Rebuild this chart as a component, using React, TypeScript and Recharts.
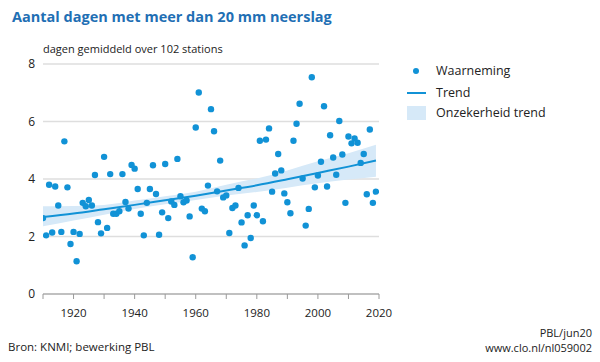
import {
  ComposedChart,
  Area,
  Line,
  Scatter,
  XAxis,
  YAxis,
  CartesianGrid,
} from "recharts";

const BLUE = "#1192d6";
const TITLE_BLUE = "#1f6fb4";
const BAND = "#d6e9f8";
const FONT = "'Open Sans', 'Noto Sans', sans-serif";

// jaarlijkse waarnemingen 1910-2019
const firstYear = 1910;
const observed = [
  2.64, 2.04, 3.8, 2.14, 3.74, 3.08, 2.16, 5.31, 3.71, 1.74,
  2.16, 1.14, 2.09, 3.17, 3.05, 3.27, 3.08, 4.14, 2.5, 2.11,
  4.77, 2.3, 4.17, 2.79, 2.79, 2.88, 4.17, 3.2, 2.97, 4.49,
  4.36, 3.65, 2.79, 2.04, 3.17, 3.65, 4.48, 3.48, 2.06, 2.84,
  4.52, 2.64, 3.22, 3.1, 4.7, 3.4, 3.19, 3.25, 2.7, 1.28,
  5.79, 7.01, 2.97, 2.88, 3.77, 6.43, 5.66, 3.57, 4.64, 3.36,
  3.43, 2.12, 2.99, 3.08, 3.69, 2.49, 1.69, 2.74, 1.95, 3.08,
  2.74, 5.33, 2.53, 5.37, 5.76, 3.56, 4.19, 4.87, 4.3, 3.5,
  3.19, 2.81, 5.33, 5.92, 6.62, 4.02, 2.38, 2.96, 7.54, 3.71,
  4.12, 4.6, 6.53, 3.74, 5.52, 4.75, 4.15, 6.02, 4.85, 3.17,
  5.48, 5.24, 5.41, 5.26, 4.56, 4.87, 3.47, 5.72, 3.17, 3.56,
];

// trend en onzekerheidsband
const trendYears = [1910, 1920, 1930, 1940, 1950, 1960, 1970, 1980, 1990, 2000, 2010, 2019];
const trendValues = [2.68, 2.8, 2.95, 3.1, 3.26, 3.42, 3.6, 3.78, 3.99, 4.21, 4.43, 4.64];
const bandLow = [2.36, 2.56, 2.76, 2.96, 3.12, 3.27, 3.43, 3.55, 3.7, 3.85, 3.98, 4.08];
const bandHigh = [3.05, 3.06, 3.1, 3.25, 3.4, 3.56, 3.8, 4.02, 4.3, 4.62, 4.9, 5.19];

const xTicks = [1910, 1920, 1930, 1940, 1950, 1960, 1970, 1980, 1990, 2000, 2010, 2020];
const yTicks = [0, 2, 4, 6, 8];

const obsData = observed.map((v, i) => ({ year: firstYear + i, v }));
const trendData = trendYears.map((year, i) => ({
  year,
  trend: trendValues[i],
  band: [bandLow[i], bandHigh[i]],
}));

function LegendBox() {
  const row = { position: "absolute" as const, left: 436, fontSize: 12.5, color: "#222", lineHeight: "14px" };
  return (
    <>
      <div style={{ position: "absolute", left: 413, top: 68, width: 6, height: 6, borderRadius: 3, background: BLUE }} />
      <div style={{ ...row, top: 64 }}>Waarneming</div>
      <div style={{ position: "absolute", left: 407, top: 92, width: 19, height: 2, background: BLUE }} />
      <div style={{ ...row, top: 86 }}>Trend</div>
      <div style={{ position: "absolute", left: 407, top: 106, width: 19, height: 14, background: BAND }} />
      <div style={{ ...row, top: 106 }}>Onzekerheid trend</div>
    </>
  );
}

export default function App() {
  return (
    <div style={{ position: "absolute", left: 0, top: 0, width: 600, height: 362, fontFamily: FONT, background: "#fff" }}>
      <div style={{ position: "absolute", left: 12, top: 7, fontSize: 14.5, fontWeight: 700, color: TITLE_BLUE }}>
        Aantal dagen met meer dan 20 mm neerslag
      </div>
      <div style={{ position: "absolute", left: 43, top: 41, fontSize: 11, color: "#222" }}>
        dagen gemiddeld over 102 stations
      </div>
      <ComposedChart width={600} height={362} margin={{ top: 64, right: 221, bottom: 38, left: 0 }}>
        <CartesianGrid horizontal vertical={false} stroke="#dedede" strokeWidth={1.5} />
        <XAxis
          type="number"
          dataKey="year"
          domain={[1910, 2020]}
          ticks={xTicks}
          interval={0}
          tickFormatter={(v: number) => (v % 20 === 0 ? String(v) : "")}
          tick={{ fill: "#222", fontSize: 11.5 }}
          tickSize={5}
          tickMargin={10}
          stroke="#9a9a9a"
          allowDataOverflow
        />
        <YAxis
          type="number"
          domain={[0, 8]}
          ticks={yTicks}
          width={43}
          tickSize={0}
          tickMargin={8}
          axisLine={false}
          tick={{ fill: "#222", fontSize: 12 }}
        />
        <Area
          data={trendData}
          dataKey="band"
          type="monotone"
          stroke="none"
          fill={BAND}
          fillOpacity={1}
          isAnimationActive={false}
        />
        <Line
          data={trendData}
          dataKey="trend"
          type="monotone"
          stroke={BLUE}
          strokeWidth={2}
          dot={false}
          isAnimationActive={false}
        />
        <Scatter data={obsData} dataKey="v" fill={BLUE} shape={(p: any) => <circle cx={p.cx} cy={p.cy} r={3.2} fill={BLUE} />} isAnimationActive={false} />
      </ComposedChart>
      <LegendBox />
      <div style={{ position: "absolute", left: 8, top: 339, fontSize: 11.5, color: "#222" }}>Bron: KNMI; bewerking PBL</div>
      <div style={{ position: "absolute", right: 8, top: 325, fontSize: 11, color: "#222", textAlign: "right", lineHeight: "15px" }}>
        PBL/jun20
        <br />
        www.clo.nl/nl059002
      </div>
    </div>
  );
}
